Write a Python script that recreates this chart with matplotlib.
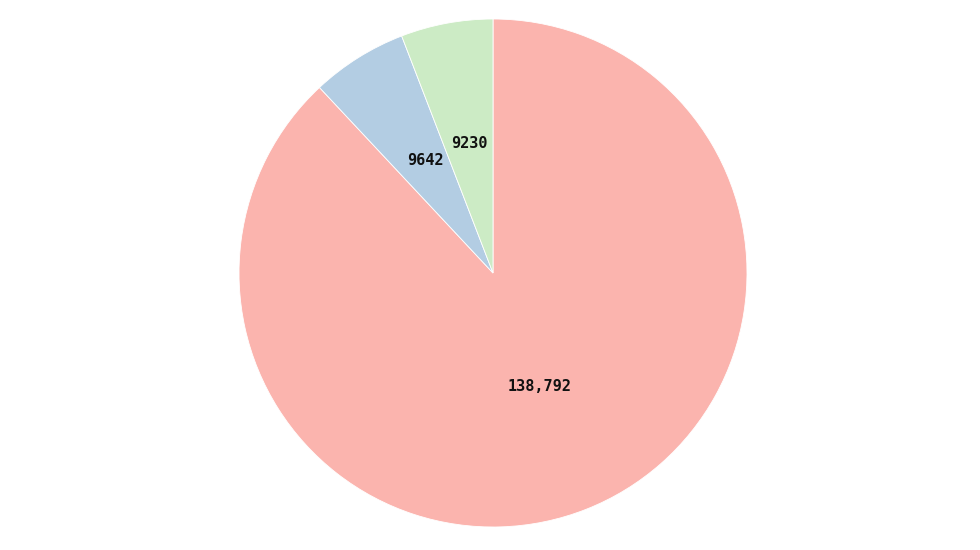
import matplotlib.pyplot as plt

# slice values, clockwise from 12 o'clock
values = [138792, 9642, 9230]
labels = ["138,792", "9642", "9230"]
colors = ["#FBB4AE", "#B3CDE3", "#CCEBC5"]

W, H = 980, 550
cx, cy, r = 493, 273, 254

fig = plt.figure(figsize=(W / 100, H / 100), dpi=100)
ax = fig.add_axes([(cx - r) / W, (H - cy - r) / H, 2 * r / W, 2 * r / H])

wedges, texts = ax.pie(
    values,
    labels=labels,
    colors=colors,
    startangle=90,
    counterclock=False,
    labeldistance=0.5,
    wedgeprops=dict(edgecolor="white", linewidth=0.6),
    textprops=dict(fontsize=11, fontweight="bold", family="DejaVu Sans Mono", color="#111111"),
)
for t in texts:
    t.set_horizontalalignment("center")
    t.set_verticalalignment("baseline")

ax.set_xlim(-1, 1)
ax.set_ylim(-1, 1)
ax.set_aspect("equal")
ax.axis("off")

fig.savefig("out.png", dpi=100)
